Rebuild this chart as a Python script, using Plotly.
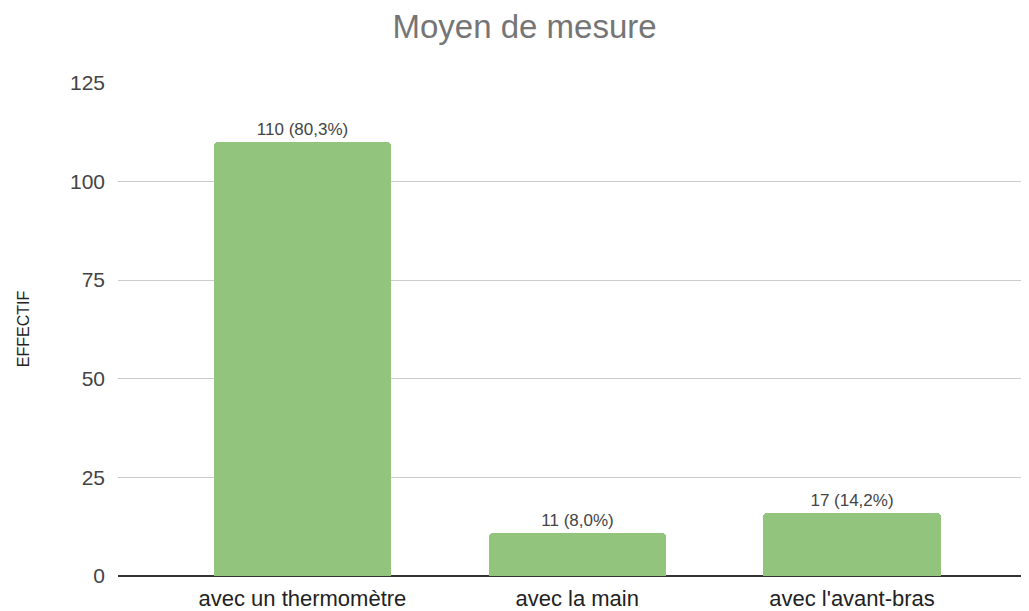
import plotly.graph_objects as go

categories = ["avec un thermomètre", "avec la main", "avec l'avant-bras"]
values = [110, 11, 16]
labels = ["110 (80,3%)", "11 (8,0%)", "17 (14,2%)"]
y_ticks = [0, 25, 50, 75, 100, 125]

fig = go.Figure()
fig.add_trace(go.Bar(
    x=list(range(len(categories))),
    y=values,
    text=labels,
    textposition="outside",
    cliponaxis=False,
    textfont=dict(family="Arial, Liberation Sans", size=17, color="#444444"),
    marker=dict(color="#93c47d", cornerradius=4, line=dict(width=0)),
    width=0.645,
))

fig.update_layout(
    width=1029, height=611,
    margin=dict(l=110, r=8, t=74, b=43),
    paper_bgcolor="white", plot_bgcolor="white",
    font=dict(family="Arial, Liberation Sans", color="#444444"),
    title=dict(text="Moyen de mesure", x=0.502, xanchor="center", y=0.969, yanchor="middle",
               font=dict(size=33, color="#757575")),
    showlegend=False,
    bargap=0,
)
fig.update_xaxes(
    range=[-0.671, 2.644],
    tickmode="array", tickvals=list(range(len(categories))), ticktext=categories,
    tickfont=dict(size=22, color="#222222"),
    showgrid=False, zeroline=False, showline=False, ticks="",
    ticklabelstandoff=7,
)
fig.update_yaxes(
    range=[0, 125.2], tickvals=y_ticks,
    tickfont=dict(size=21, color="#444444"),
    showgrid=True, gridcolor="#cccccc", gridwidth=1,
    zeroline=True, zerolinecolor="#333333", zerolinewidth=2,
    showline=False, ticks="", ticklabelstandoff=12,
    title=dict(text="EFFECTIF", font=dict(size=16, color="#222222"), standoff=36),
)
fig.write_html("out.html")
